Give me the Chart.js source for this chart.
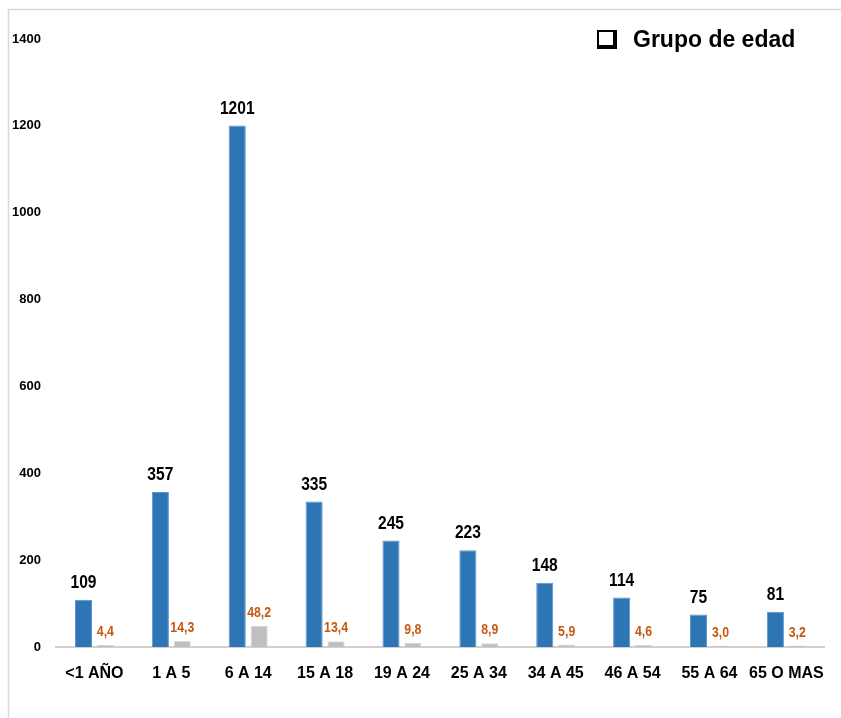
<!DOCTYPE html>
<html>
<head>
<meta charset="utf-8">
<script src="https://cdn.jsdelivr.net/npm/chart.js@4.4.0/dist/chart.umd.min.js"></script>
<style>
  html, body { margin: 0; padding: 0; background: #fff; }
  #wrap { width: 841px; height: 718px; position: relative; }
</style>
</head>
<body>
<div id="wrap"><canvas id="grafico" width="841" height="718"></canvas></div>
<script>
const grupos = ['<1 AÑO', '1 A 5', '6 A 14', '15 A 18', '19 A 24', '25 A 34', '34 A 45', '46 A 54', '55 A 64', '65 O MAS'];
const casos = [109, 357, 1201, 335, 245, 223, 148, 114, 75, 81];
const tasas = [4.4, 14.3, 48.2, 13.4, 9.8, 8.9, 5.9, 4.6, 3.0, 3.2];
const leyenda = 'Grupo de edad';

const sans = '"Liberation Sans", Arial, sans-serif';

// marco gris y leyenda de texto
const marco = {
  id: 'marco',
  beforeDraw(chart) {
    const c = chart.ctx;
    c.save();
    c.strokeStyle = '#d9d9d9';
    c.lineWidth = 1.5;
    c.beginPath();
    c.moveTo(8.5, 800);
    c.lineTo(8.5, 9.5);
    c.lineTo(841, 9.5);
    c.stroke();
    c.restore();
  },
  afterDraw(chart) {
    const c = chart.ctx;
    c.save();
    c.textBaseline = 'middle';
    // casilla con sombra
    c.fillStyle = '#000';
    c.fillRect(597, 30, 20, 19);
    c.fillStyle = '#fff';
    c.fillRect(599, 32, 14, 13);
    c.fillStyle = '#000';
    c.font = 'bold 23px ' + sans;
    c.fillText(leyenda, 633, 41);
    c.restore();
  }
};

// etiquetas de valores (letra estrecha simulada)
const etiquetas = {
  id: 'etiquetas',
  afterDatasetsDraw(chart) {
    const c = chart.ctx;
    chart.data.datasets.forEach((ds, i) => {
      const meta = chart.getDatasetMeta(i);
      meta.data.forEach((bar, j) => {
        c.save();
        c.textAlign = 'center';
        c.textBaseline = 'middle';
        if (i === 0) {
          c.translate(bar.x, bar.y - 17);
          c.scale(0.82, 1);
          c.font = 'bold 19px ' + sans;
          c.fillStyle = '#000';
          c.fillText(String(ds.data[j]), 0, 0);
        } else {
          c.translate(bar.x, bar.y - 13);
          c.scale(0.82, 1);
          c.font = 'bold 15px ' + sans;
          c.fillStyle = '#C65911';
          c.fillText(ds.data[j].toFixed(1).replace('.', ','), 0, 0);
        }
        c.restore();
      });
    });
  }
};

new Chart(document.getElementById('grafico'), {
  type: 'bar',
  data: {
    labels: grupos,
    datasets: [
      {
        label: 'Casos',
        data: casos,
        backgroundColor: '#2E75B6',
        borderColor: '#5b95cc',
        borderWidth: 1,
        categoryPercentage: 0.57,
        barPercentage: 0.78
      },
      {
        label: 'Tasa',
        data: tasas,
        backgroundColor: '#BFBFBF',
        borderColor: '#d6d6d6',
        borderWidth: 1,
        categoryPercentage: 0.57,
        barPercentage: 0.78
      }
    ]
  },
  options: {
    responsive: false,
    animation: false,
    layout: { padding: { top: 39, right: 6, left: 0, bottom: 0 } },
    plugins: {
      legend: { display: false },
      tooltip: { enabled: false }
    },
    scales: {
      x: {
        grid: { display: false, drawTicks: false },
        border: { display: true, color: '#d0d0d0', width: 2 },
        ticks: {
          color: '#000',
          padding: 17,
          font: { family: sans, size: 16, weight: 'bold' },
          maxRotation: 0,
          autoSkip: false
        },
        afterFit(scale) { scale.height = 71; }
      },
      y: {
        min: 0,
        max: 1400,
        grid: { display: false, drawTicks: false },
        border: { display: false },
        ticks: {
          stepSize: 200,
          color: '#000',
          padding: 15,
          font: { family: sans, size: 13, weight: 'bold' },
          callback: (v) => String(v)
        },
        afterFit(scale) { scale.width = 56; }
      }
    }
  },
  plugins: [marco, etiquetas]
});
</script>
</body>
</html>
